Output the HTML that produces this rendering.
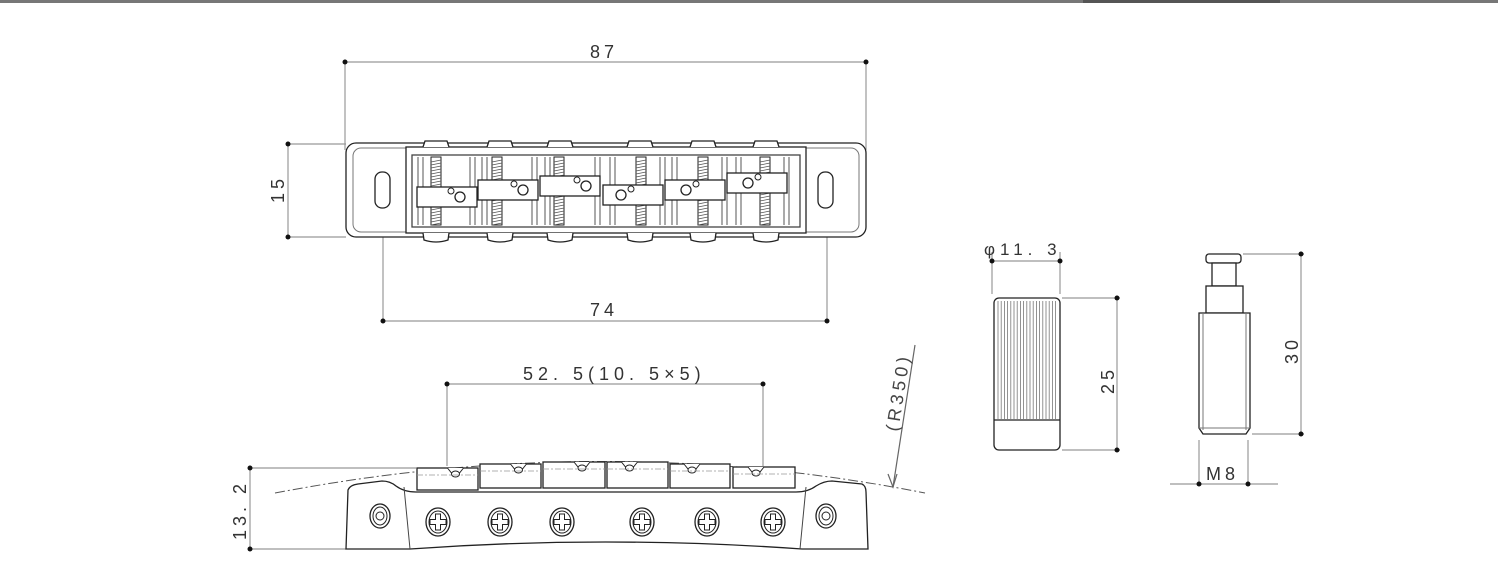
<!DOCTYPE html>
<html><head><meta charset="utf-8"><style>
html,body{margin:0;padding:0;background:#fff;}
svg{display:block;}
text{font-family:"Liberation Sans",sans-serif;font-size:18px;fill:#333;letter-spacing:4px;}
</style></head><body>
<svg id="s" width="1498" height="579" viewBox="0 0 1498 579" xmlns="http://www.w3.org/2000/svg">
<rect x="0" y="0" width="1498" height="3" fill="#777"/>
<rect x="1083" y="0" width="197" height="3" fill="#555"/>
<g id="dim" stroke="#999" stroke-width="1.2" fill="none">
 <line x1="345" y1="62" x2="866" y2="62"/>
 <line x1="345" y1="62" x2="345" y2="150"/>
 <line x1="866" y1="62" x2="866" y2="150"/>
 <line x1="288" y1="144" x2="288" y2="237"/>
 <line x1="288" y1="144" x2="346" y2="144"/>
 <line x1="288" y1="237" x2="346" y2="237"/>
 <line x1="383" y1="321" x2="827" y2="321"/>
 <line x1="383" y1="208" x2="383" y2="321"/>
 <line x1="827" y1="208" x2="827" y2="321"/>
 <line x1="447" y1="384" x2="763" y2="384"/>
 <line x1="447" y1="384" x2="447" y2="466"/>
 <line x1="763" y1="384" x2="763" y2="466"/>
 <line x1="250" y1="468" x2="250" y2="549"/>
 <line x1="250" y1="468" x2="416" y2="468"/>
 <line x1="250" y1="549" x2="346" y2="549"/>
 <line x1="992" y1="261" x2="1060" y2="261"/>
 <line x1="992" y1="252" x2="992" y2="294"/>
 <line x1="1060" y1="252" x2="1060" y2="294"/>
 <line x1="1117" y1="298" x2="1117" y2="450"/>
 <line x1="1062" y1="298" x2="1120" y2="298"/>
 <line x1="1062" y1="450" x2="1120" y2="450"/>
 <line x1="1301" y1="254" x2="1301" y2="434"/>
 <line x1="1243" y1="254" x2="1304" y2="254"/>
 <line x1="1252" y1="434" x2="1304" y2="434"/>
 <line x1="1170" y1="484" x2="1278" y2="484"/>
 <line x1="1199" y1="440" x2="1199" y2="484"/>
 <line x1="1248" y1="440" x2="1248" y2="484"/>
 <line x1="915" y1="345" x2="893" y2="487" stroke="#666"/>
 <path d="M888 474 L893 487 L897 474" stroke="#666"/>
</g>
<g fill="#111">
 <circle cx="345" cy="62" r="2.5"/><circle cx="866" cy="62" r="2.5"/>
 <circle cx="288" cy="144" r="2.5"/><circle cx="288" cy="237" r="2.5"/>
 <circle cx="383" cy="321" r="2.5"/><circle cx="827" cy="321" r="2.5"/>
 <circle cx="447" cy="384" r="2.5"/><circle cx="763" cy="384" r="2.5"/>
 <circle cx="250" cy="468" r="2.5"/><circle cx="250" cy="549" r="2.5"/>
 <circle cx="992" cy="261" r="2.5"/><circle cx="1060" cy="261" r="2.5"/>
 <circle cx="1117" cy="298" r="2.5"/><circle cx="1117" cy="450" r="2.5"/>
 <circle cx="1301" cy="254" r="2.5"/><circle cx="1301" cy="434" r="2.5"/>
 <circle cx="1199" cy="484" r="2.5"/><circle cx="1248" cy="484" r="2.5"/>
</g>
<text x="590" y="58">87</text>
<text x="590" y="316">74</text>
<text x="523" y="380" style="letter-spacing:5px">52. 5(10. 5×5)</text>
<text x="1206" y="480">M8</text>
<text x="984" y="255" style="font-size:17px;letter-spacing:5px">φ11. 3</text>
<text transform="translate(284,203) rotate(-90)">15</text>
<text transform="translate(246,540) rotate(-90)">13. 2</text>
<text transform="translate(1114,394) rotate(-90)">25</text>
<text transform="translate(1298,364) rotate(-90)">30</text>
<text transform="translate(898,432) rotate(-81)" style="fill:#444">(R350)</text>

<g id="draw" stroke="#222" stroke-width="1.3" fill="#fff">
 <rect x="346" y="143" width="520" height="94" rx="10"/>
 <rect x="353" y="148" width="506" height="84" rx="8" stroke="#777" stroke-width="1"/>
 <rect x="406" y="147" width="400" height="86" fill="#fff"/>
 <rect x="412" y="155" width="388" height="72" stroke="#444"/>
 <rect x="375" y="172" width="15" height="36" rx="7"/>
 <rect x="818" y="172" width="15" height="36" rx="7"/>
 <path d="M275 493 Q605 430 925 493" stroke="#555" stroke-width="1" stroke-dasharray="10 3 2 3" fill="none"/>
 <path d="M346 549 L348 490 Q350 485 358 484 L382 481 Q390 481 396 486 Q404 492 416 492 L796 492 Q808 492 816 486 Q824 481 832 481 L862 484 Q866 486 866 492 L868 549 L802 549 Q605 535 410 549 Z"/>
 <line x1="404" y1="487" x2="410" y2="549" stroke="#444" stroke-width="1"/>
 <line x1="806" y1="487" x2="800" y2="549" stroke="#444" stroke-width="1"/>
 <rect x="994" y="298" width="66" height="152" rx="5"/>
 <line x1="994" y1="420" x2="1060" y2="420"/>
 <rect x="1206" y="254" width="35" height="9" rx="3"/>
 <rect x="1212" y="263" width="24" height="23"/>
 <rect x="1206" y="286" width="37" height="27"/>
 <path d="M1199 313 L1250 313 L1250 428 L1246 434 L1203 434 L1199 428 Z"/>
 <line x1="1203" y1="313" x2="1203" y2="430" stroke="#777" stroke-width="1"/>
 <line x1="1246" y1="313" x2="1246" y2="430" stroke="#777" stroke-width="1"/>
 <line x1="1199" y1="428" x2="1250" y2="428" stroke="#777" stroke-width="1"/>
</g>
<g id="gen"></g>
</svg>
<script>
var NS="http://www.w3.org/2000/svg",g=document.getElementById("gen");
function el(t,a){var e=document.createElementNS(NS,t);for(var k in a)e.setAttribute(k,a[k]);g.appendChild(e);return e;}
var base={stroke:"#222","stroke-width":1.3,fill:"#fff"};
function E(t,a){var o={};for(var k in base)o[k]=base[k];for(var k in a)o[k]=a[k];return el(t,o);}
[436,500,560,640,703,766].forEach(function(c){
 E("path",{d:"M"+(c-13)+" 147 L"+(c-11)+" 141 L"+(c+11)+" 141 L"+(c+13)+" 147"});
 E("path",{d:"M"+(c-13)+" 233 L"+(c-12)+" 240 Q"+c+" 244 "+(c+12)+" 240 L"+(c+13)+" 233"});
});
[418,423,470,475,482,487,532,537,545,550,595,600,610,615,660,665,672,677,722,727,736,741,784,789].forEach(function(x){
 el("line",{x1:x,y1:157,x2:x,y2:225,stroke:"#555","stroke-width":1});});
[436,497,559,641,703,765].forEach(function(c){
 E("rect",{x:c-5,y:157,width:10,height:68,"stroke-width":1});
 for(var y=160;y<224;y+=3) el("line",{x1:c-5,y1:y+2,x2:c+5,y2:y,stroke:"#555","stroke-width":0.8});
});
[[417,187,452],[478,180,515],[540,176,578],[603,185,625],[665,180,690],[727,173,752]].forEach(function(s,i){
 E("rect",{x:s[0],y:s[1],width:60,height:20});
 E("circle",{cx:s[2]+ (i<3?8:-4),cy:s[1]+10,r:5});
 E("circle",{cx:s[2]+(i<3?-1:6),cy:s[1]+4,r:3,"stroke-width":1});
});
[[417,468,478],[480,464,541],[543,462,605],[607,462,668],[670,464,730],[733,467,795]].forEach(function(s){
 E("rect",{x:s[0],y:s[1],width:s[2]-s[0],height:490-s[1]+ (s[0]>470&&s[0]<740?-2:0)});
 var c=(s[0]+s[2])/2+ (s[0]<600?8:-8);
 E("path",{d:"M"+(c-8)+" "+s[1]+" L"+(c-4)+" "+(s[1]+5)+" L"+(c+4)+" "+(s[1]+5)+" L"+(c+8)+" "+s[1],"stroke-width":1});
 E("ellipse",{cx:c,cy:s[1]+6,rx:4,ry:3,"stroke-width":1});
 el("line",{x1:s[0],y1:s[1]+7,x2:s[2],y2:s[1]+7,stroke:"#999","stroke-width":0.8,"stroke-dasharray":"6 2 2 2"});
});
[380,826].forEach(function(c){
 E("ellipse",{cx:c,cy:516,rx:10,ry:12});
 E("ellipse",{cx:c,cy:516,rx:7,ry:9,"stroke-width":1});
 E("circle",{cx:c,cy:516,r:4,"stroke-width":1});
});
[438,500,562,642,707,773].forEach(function(c){
 E("ellipse",{cx:c,cy:522,rx:12,ry:14});
 E("ellipse",{cx:c,cy:522,rx:9,ry:11,"stroke-width":1});
 E("path",{d:"M"+(c-2.5)+" 514 h5 v5.5 h5.5 v5 h-5.5 v5.5 h-5 v-5.5 h-5.5 v-5 h5.5 z","stroke-width":1});
});
for(var x=998;x<1058;x+=3.2) el("line",{x1:x,y1:301,x2:x,y2:419,stroke:"#777","stroke-width":0.8});
</script>
</body></html>
